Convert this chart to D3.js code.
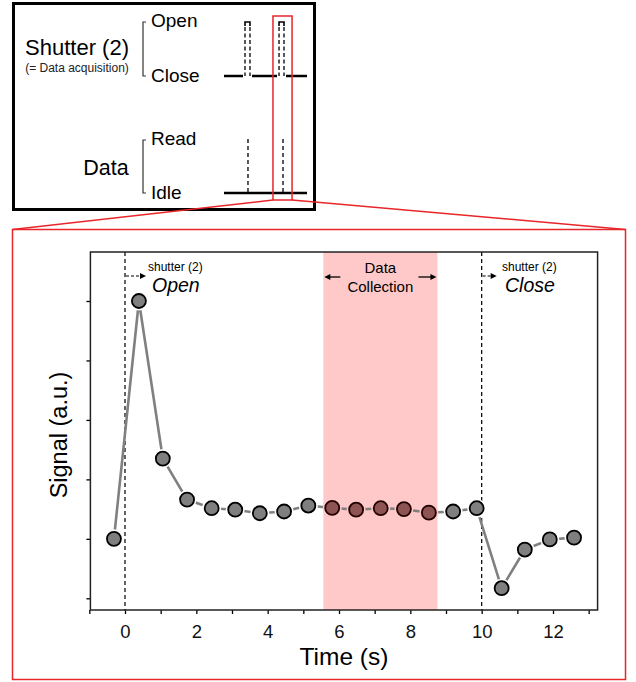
<!DOCTYPE html>
<html>
<head>
<meta charset="utf-8">
<script src="https://cdn.jsdelivr.net/npm/d3@7"></script>
<style>
  body { margin: 0; background: #fff; }
  svg { font-family: "Liberation Sans", Arial, sans-serif; }
</style>
</head>
<body>
<svg id="chart" width="636" height="682"></svg>
<script>
// signal trace
const time = [-0.31, 0.39, 1.06, 1.74, 2.43, 3.09, 3.78, 4.46, 5.14, 5.81, 6.48, 7.17, 7.82, 8.52, 9.2, 9.86, 10.56, 11.21, 11.91, 12.59];
const signal = [1.0, 5.0, 2.35, 1.66, 1.515, 1.49, 1.43, 1.46, 1.56, 1.52, 1.49, 1.515, 1.5, 1.44, 1.46, 1.515, 0.17, 0.82, 0.99, 1.02];
const collection = [5.56, 8.76];
const shutterEvents = [0, 10];
const xTicks = d3.range(-1, 14);
const yTicks = [0, 1, 2, 3, 4, 5];

// timing diagram (arbitrary units 0..100)
const shutterPulses = [[25.3, 31.3], [66.3, 72.3]];
const dataReads = [28.9, 71.1];
const zoomWindow = [59, 82];

const svg = d3.select('#chart');

// ---- top timing box ----
const timing = svg.append('g');
timing.append('rect')
    .attr('x', 13.5).attr('y', 3.5).attr('width', 301).attr('height', 206)
    .attr('fill', 'none').attr('stroke', '#000').attr('stroke-width', 3);

timing.append('text').attr('x', 77).attr('y', 55).attr('text-anchor', 'middle')
    .attr('font-size', 22).text('Shutter (2)');
timing.append('text').attr('x', 77).attr('y', 72).attr('text-anchor', 'middle')
    .attr('font-size', 12).attr('fill', '#222').text('(= Data acquisition)');
timing.append('text').attr('x', 106).attr('y', 175).attr('text-anchor', 'middle')
    .attr('font-size', 21.5).text('Data');

function bracket(y0, y1) {
    timing.append('path')
        .attr('d', `M146,${y0} H143 V${y1} H146`)
        .attr('fill', 'none').attr('stroke', '#333').attr('stroke-width', 1.2);
}
bracket(22, 76);
bracket(140, 193);

[['Open', 27], ['Close', 82], ['Read', 145], ['Idle', 199]].forEach(([t, yy]) => {
    timing.append('text').attr('x', 151).attr('y', yy).attr('font-size', 19).text(t);
});

const tx = d3.scaleLinear().domain([0, 100]).range([224, 307]);
const yOpen = 22, yClose = 76, yRead = 139, yIdle = 193;

// closed-state line broken by pulses
const breaks = [0].concat(shutterPulses.flat(), [100]);
for (let i = 0; i < breaks.length; i += 2) {
    timing.append('line')
        .attr('x1', tx(breaks[i]) + (i ? 2 : 0)).attr('x2', tx(breaks[i + 1]) - (i < breaks.length - 2 ? 2 : 0))
        .attr('y1', yClose).attr('y2', yClose)
        .attr('stroke', '#000').attr('stroke-width', 2.5);
}
shutterPulses.forEach(p => {
    timing.append('path')
        .attr('d', `M${tx(p[0])},${yOpen + 4} V${yOpen} H${tx(p[1])} V${yOpen + 4}`)
        .attr('fill', 'none').attr('stroke', '#000').attr('stroke-width', 1.6);
    p.forEach(v => {
        timing.append('line')
            .attr('x1', tx(v)).attr('x2', tx(v)).attr('y1', yOpen + 5).attr('y2', yClose)
            .attr('stroke', '#000').attr('stroke-width', 1.3).attr('stroke-dasharray', '4,2.5');
    });
});
timing.append('line')
    .attr('x1', tx(0)).attr('x2', tx(100)).attr('y1', yIdle).attr('y2', yIdle)
    .attr('stroke', '#000').attr('stroke-width', 2.5);
dataReads.forEach(v => {
    timing.append('line')
        .attr('x1', tx(v)).attr('x2', tx(v)).attr('y1', yRead).attr('y2', yIdle)
        .attr('stroke', '#000').attr('stroke-width', 1.3).attr('stroke-dasharray', '4,3');
});

// red zoom window + connector lines
const red = '#e8262a';
timing.append('rect')
    .attr('x', tx(zoomWindow[0])).attr('y', 16)
    .attr('width', tx(zoomWindow[1]) - tx(zoomWindow[0])).attr('height', 184)
    .attr('fill', 'none').attr('stroke', red).attr('stroke-width', 1.5);
svg.append('line').attr('x1', tx(zoomWindow[0])).attr('y1', 200).attr('x2', 12.5).attr('y2', 229.5)
    .attr('stroke', red).attr('stroke-width', 1.5);
svg.append('line').attr('x1', tx(zoomWindow[1])).attr('y1', 200).attr('x2', 625.5).attr('y2', 229.5)
    .attr('stroke', red).attr('stroke-width', 1.5);
svg.append('rect')
    .attr('x', 12.5).attr('y', 229.5).attr('width', 613).attr('height', 450)
    .attr('fill', 'none').attr('stroke', red).attr('stroke-width', 1.5);

// ---- main plot ----
const x = d3.scaleLinear().domain([0, 12]).range([125, 553]);
const y = d3.scaleLinear().domain([0, 5]).range([598.3, 301]);
const xMin = -0.97, xMax = 13.25;
const plotTop = 252, plotBottom = 610;

// data collection band
svg.append('rect')
    .attr('x', x(collection[0])).attr('y', plotTop)
    .attr('width', x(collection[1]) - x(collection[0])).attr('height', plotBottom - plotTop)
    .attr('fill', '#ffc9c9');

// shutter event lines
shutterEvents.forEach(t => {
    svg.append('line')
        .attr('x1', x(t)).attr('x2', x(t)).attr('y1', plotTop).attr('y2', plotBottom)
        .attr('stroke', '#111').attr('stroke-width', 1.3).attr('stroke-dasharray', '4,3');
});

// axes
const xAxis = svg.append('g')
    .attr('transform', `translate(0,${plotBottom})`)
    .call(d3.axisBottom(x).tickValues(xTicks).tickSize(4).tickPadding(11)
        .tickFormat(d => d % 2 === 0 ? d : ''));
xAxis.select('.domain').remove();
xAxis.selectAll('text').attr('font-size', 18.5).attr('fill', '#111')
    .attr('font-family', '"Liberation Sans", Arial, sans-serif');
xAxis.selectAll('line').attr('stroke-width', 1.3);

const yAxis = svg.append('g')
    .attr('transform', `translate(${x(xMin)},0)`)
    .call(d3.axisLeft(y).tickValues(yTicks).tickSize(4).tickFormat(''));
yAxis.select('.domain').remove();
yAxis.selectAll('line').attr('stroke-width', 1.3);

// frame
svg.append('rect')
    .attr('x', x(xMin)).attr('y', plotTop)
    .attr('width', x(xMax) - x(xMin)).attr('height', plotBottom - plotTop)
    .attr('fill', 'none').attr('stroke', '#222').attr('stroke-width', 1.5);

// trace
const pts = time.map((t, i) => ({ t, v: signal[i] }));
svg.append('path')
    .datum(pts)
    .attr('d', d3.line().x(d => x(d.t)).y(d => y(d.v)))
    .attr('fill', 'none').attr('stroke', '#808080').attr('stroke-width', 2.6);

const inBand = d => d.t >= collection[0] && d.t <= collection[1];
svg.append('g').selectAll('circle')
    .data(pts).join('circle')
    .attr('cx', d => x(d.t)).attr('cy', d => y(d.v)).attr('r', 9.5)
    .attr('fill', d => inBand(d) ? '#ffc9c9' : '#fff');
svg.append('g').selectAll('circle')
    .data(pts).join('circle')
    .attr('cx', d => x(d.t)).attr('cy', d => y(d.v)).attr('r', 7)
    .attr('fill', d => inBand(d) ? '#8e5454' : '#7f7f7f')
    .attr('stroke', d => inBand(d) ? '#200' : '#000')
    .attr('stroke-width', 1.8);

// annotations
function dashedArrow(x0, x1, yy) {
    svg.append('line').attr('x1', x0).attr('x2', x1 - 5).attr('y1', yy).attr('y2', yy)
        .attr('stroke', '#000').attr('stroke-width', 1.2).attr('stroke-dasharray', '3,2');
    svg.append('path').attr('d', `M${x1},${yy} l-6,-3 v6 z`).attr('fill', '#000');
}
function solidArrow(x0, x1, yy) {
    const dir = Math.sign(x1 - x0);
    svg.append('line').attr('x1', x0).attr('x2', x1 - dir * 5).attr('y1', yy).attr('y2', yy)
        .attr('stroke', '#000').attr('stroke-width', 1.3);
    svg.append('path').attr('d', `M${x1},${yy} l${-dir * 6},-3 v6 z`).attr('fill', '#000');
}

dashedArrow(x(0) + 1, x(0) + 21, 276);
svg.append('text').attr('x', 148).attr('y', 271).attr('font-size', 12).text('shutter (2)');
svg.append('text').attr('x', 152).attr('y', 292).attr('font-size', 19.5).attr('font-style', 'italic').text('Open');

dashedArrow(x(10) + 1, x(10) + 15, 276);
svg.append('text').attr('x', 502).attr('y', 271).attr('font-size', 12).text('shutter (2)');
svg.append('text').attr('x', 505).attr('y', 292).attr('font-size', 19.5).attr('font-style', 'italic').text('Close');

const bandMid = (x(collection[0]) + x(collection[1])) / 2;
svg.append('text').attr('x', bandMid).attr('y', 273).attr('text-anchor', 'middle').attr('font-size', 15).text('Data');
svg.append('text').attr('x', bandMid).attr('y', 292).attr('text-anchor', 'middle').attr('font-size', 15).text('Collection');
solidArrow(x(collection[0]) + 17, x(collection[0]) + 1, 277);
solidArrow(x(collection[1]) - 19, x(collection[1]) - 1, 277);

// axis titles
svg.append('text').attr('x', 344).attr('y', 665).attr('text-anchor', 'middle')
    .attr('font-size', 24.5).text('Time (s)');
svg.append('text').attr('transform', 'translate(67,435) rotate(-90)')
    .attr('text-anchor', 'middle').attr('font-size', 23.5).text('Signal (a.u.)');
</script>
</body>
</html>
